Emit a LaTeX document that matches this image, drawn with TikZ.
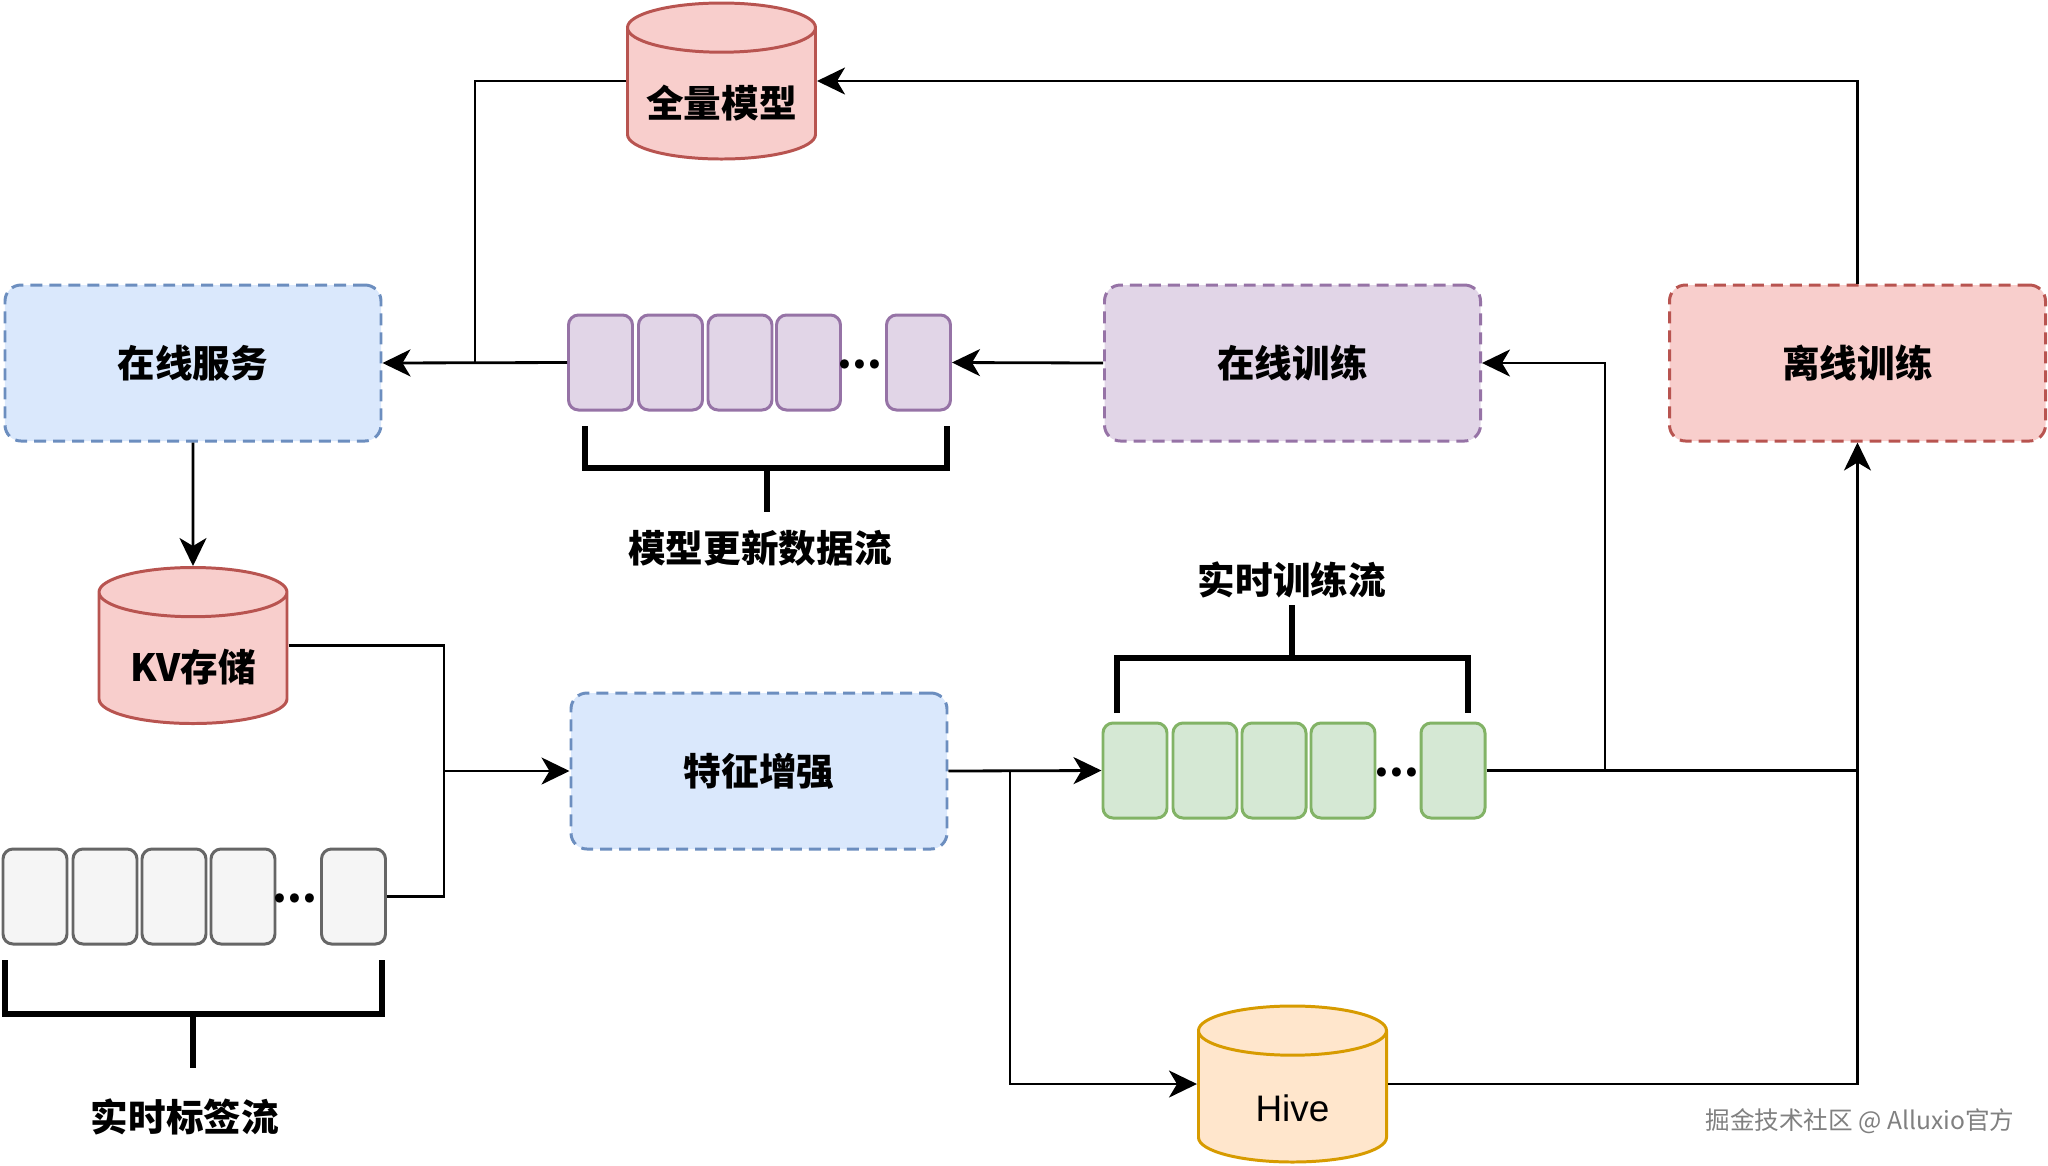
\documentclass[tikz,border=0pt]{standalone}
\usepackage{fontspec}
\setmainfont{Noto Sans CJK SC}
\newfontfamily\hivefont{Liberation Sans}
\usetikzlibrary{arrows.meta,shapes.geometric}

\definecolor{blueF}{HTML}{DAE8FC}
\definecolor{blueD}{HTML}{6C8EBF}
\definecolor{purpF}{HTML}{E1D5E7}
\definecolor{purpD}{HTML}{9673A6}
\definecolor{redF}{HTML}{F8CECC}
\definecolor{redD}{HTML}{B85450}
\definecolor{greenF}{HTML}{D5E8D4}
\definecolor{greenD}{HTML}{82B366}
\definecolor{grayF}{HTML}{F5F5F5}
\definecolor{grayD}{HTML}{666666}
\definecolor{orangeF}{HTML}{FFE6CC}
\definecolor{orangeD}{HTML}{D79B00}

\begin{document}
\begin{tikzpicture}[
font=\fontsize{10.7}{12}\selectfont\bfseries,
stage/.style={draw,rounded corners=0.16cm,line width=0.85pt,dash pattern=on 3.4pt off 2pt,minimum width=3.76cm,minimum height=1.56cm},
store/.style={draw,cylinder,shape border rotate=90,aspect=2.1,anchor=shape center,line width=0.85pt,minimum width=1.88cm,minimum height=1.56cm},
cell/.style={draw,rounded corners=0.1cm,line width=0.85pt,minimum width=0.64cm,minimum height=0.95cm},
dots/.style={inner sep=0pt,font=\fontsize{12}{12}\selectfont\bfseries},
tag/.style={inner sep=1pt},
arrow/.style={-{Stealth[length=0.28cm,width=0.27cm,inset=0.08cm]},line width=0.8pt},
line/.style={line width=0.8pt},
brace/.style={line width=1.5pt} ]

\useasboundingbox (0,0) rectangle (20.48,-11.65);

\node[store,fill=redF,draw=redD] (full) at (7.215,-0.81) {};
\node[tag] (fulltext) at ([yshift=-0.22cm]full.shape center) {全量模型};

\node[stage,fill=blueF,draw=blueD] (serve) at (1.93,-3.63) {在线服务};

\node[stage,fill=purpF,draw=purpD] (online) at (12.925,-3.63) {在线训练};

\node[stage,fill=redF,draw=redD] (offline) at (18.575,-3.63) {离线训练};

\node[store,fill=redF,draw=redD] (kv) at (1.93,-6.455) {};
\node[tag] (kvtext) at ([yshift=-0.22cm]kv.shape center) {KV存储};

\node[stage,fill=blueF,draw=blueD] (feat) at (7.59,-7.71) {特征增强};

\node[store,fill=orangeF,draw=orangeD] (hive) at (12.925,-10.84) {};
\node[tag,font=\fontsize{10.5}{12}\selectfont\hivefont] (hivetext) at ([yshift=-0.24cm]hive.shape center) {Hive};

% model update queue
\node[cell,fill=purpF,draw=purpD] (p1) at (6.005,-3.625) {};
\node[cell,fill=purpF,draw=purpD] (p2) at (6.705,-3.625) {};
\node[cell,fill=purpF,draw=purpD] (p3) at (7.40,-3.625) {};
\node[cell,fill=purpF,draw=purpD] (p4) at (8.085,-3.625) {};
\node[dots] (pd) at (8.60,-3.64) {...};
\node[cell,fill=purpF,draw=purpD] (p5) at (9.185,-3.625) {};

% training queue
\node[cell,fill=greenF,draw=greenD] (g1) at (11.35,-7.705) {};
\node[cell,fill=greenF,draw=greenD] (g2) at (12.05,-7.705) {};
\node[cell,fill=greenF,draw=greenD] (g3) at (12.74,-7.705) {};
\node[cell,fill=greenF,draw=greenD] (g4) at (13.43,-7.705) {};
\node[dots] (gd) at (13.97,-7.72) {...};
\node[cell,fill=greenF,draw=greenD] (g5) at (14.53,-7.705) {};

% label queue
\node[cell,fill=grayF,draw=grayD] (q1) at (0.35,-8.965) {};
\node[cell,fill=grayF,draw=grayD] (q2) at (1.05,-8.965) {};
\node[cell,fill=grayF,draw=grayD] (q3) at (1.74,-8.965) {};
\node[cell,fill=grayF,draw=grayD] (q4) at (2.43,-8.965) {};
\node[dots] (qd) at (2.95,-8.98) {...};
\node[cell,fill=grayF,draw=grayD] (q5) at (3.535,-8.965) {};

\node[tag] (pl) at (7.60,-5.48) {模型更新数据流};

\node[tag] (gl) at (12.92,-5.80) {实时训练流};

\node[tag] (ql) at (1.85,-11.17) {实时标签流};

\node[font=\fontsize{7}{8}\selectfont,text=gray] (wm) at (18.60,-11.21) {掘金技术社区 @ Alluxio官方};

\coordinate (jA) at (4.75,-3.63);
\coordinate (jB) at (4.44,-7.71);
\coordinate (jC) at (10.10,-7.71);
\coordinate (jD) at (16.05,-7.71);
\coordinate (jE) at (18.575,-7.71);

\draw[brace] (5.85,-4.26) |- (9.47,-4.68) -- (9.47,-4.26) (7.67,-4.68) -- (7.67,-5.12);

\draw[brace] (11.17,-7.13) |- (14.68,-6.58) -- (14.68,-7.13) (12.92,-6.58) -- (12.92,-6.05);

\draw[brace] (0.05,-9.60) |- (3.82,-10.14) -- (3.82,-9.60) (1.93,-10.14) -- (1.93,-10.68);

\draw[arrow] (p1.west) -- (serve.east);

\draw[line] (full.shape center -| full.west) -| (jA);

\draw[arrow] (offline.north) |- (full.shape center -| full.east);

\draw[arrow] (online.west) -- (p5.east);

\draw[arrow] (serve.south) -- (kv.north);

\draw[line] (kv.shape center -| kv.east) -| (jB);

\draw[line] (q5.east) -| (jB);

\draw[arrow] (jB) -- (feat.west);

\draw[arrow] (feat.east) -- (g1.west);

\draw[arrow] (jC) |- (hive.shape center -| hive.west);

\draw[arrow] (g5.east) -| (offline.south);

\draw[arrow] (jD) |- (online.east);

\draw[line] (hive.shape center -| hive.east) -| (jE);

\end{tikzpicture}
\end{document}
